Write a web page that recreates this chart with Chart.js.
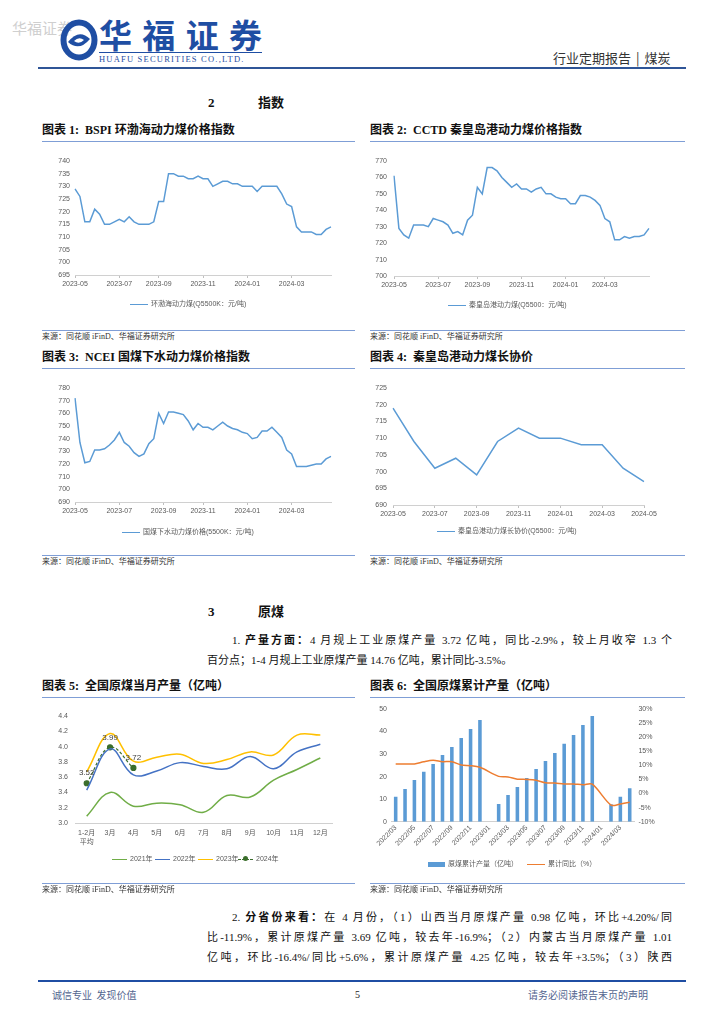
<!DOCTYPE html>
<html>
<head>
<meta charset="utf-8">
<script src="https://cdn.jsdelivr.net/npm/chart.js@4.4.1/dist/chart.umd.min.js"></script>
<style>
body { margin: 0; background: #fff; }
#page { position: relative; width: 724px; height: 1024px; overflow: hidden; font-family: "Liberation Serif", "Noto Sans CJK SC", serif; color: #111; }
.abs { position: absolute; white-space: nowrap; }
.title { font-size: 12px; font-weight: 700; line-height: 14px; }
.rule { position: absolute; height: 0; border-top: 1.5px solid #7f9ed6; }
.src { font-size: 8px; color: #333; line-height: 10px; }
.legend { position: absolute; font-family: "Liberation Sans", "Noto Sans CJK SC", sans-serif; font-size: 7px; color: #595959; white-space: nowrap; line-height: 10px; }
.legend i { display: inline-block; width: 18px; height: 0; border-top: 1.5px solid #5b9bd5; vertical-align: middle; margin-right: 3px; position: relative; }
canvas { position: absolute; }
.para { position: absolute; font-size: 11px; line-height: 14px; white-space: nowrap; }
.just { white-space: normal; text-align: justify; text-align-last: justify; }
.head { position: absolute; font-size: 13px; font-weight: 700; line-height: 16px; }
</style>
</head>
<body>
<div id="page">
  <!-- header -->
  <div class="abs" style="left:12px;top:17px;font-size:15px;color:#cfcfcf;font-family:'Noto Sans CJK SC'">华福证券</div>
  <svg style="position:absolute;left:60px;top:19px" width="38" height="42" viewBox="0 0 38 42">
    <ellipse cx="19" cy="21" rx="15.5" ry="17.5" fill="none" stroke="#1f4ea3" stroke-width="6"/>
    <path d="M8 23 Q19 9 30 20 Q19 33 8 23 Z" fill="#1f4ea3"/>
    <path d="M14 22 Q19 17 24 21 Q19 26 14 22 Z" fill="#fff"/>
  </svg>
  <div class="abs just" style="left:99px;top:15px;width:163px;font-size:33px;font-weight:700;color:#1f4ea3;font-family:'Noto Sans CJK SC';line-height:38px">华福证券</div>
  <div class="abs" style="left:99px;top:52px;width:163px;border-top:1px solid #1f4ea3"></div>
  <div class="abs" style="left:99px;top:54px;font-size:8.5px;letter-spacing:1.2px;color:#1f4ea3;line-height:10px">HUAFU SECURITIES CO.,LTD.</div>
  <div class="abs" style="left:553px;top:50px;font-size:13px;color:#333;font-family:'Noto Sans CJK SC';line-height:16px">行业定期报告<span style="margin:0 5px">|</span>煤炭</div>
  <div class="abs" style="left:38px;top:67px;width:648px;border-top:2px solid #2f5597"></div>

  <!-- section 2 -->
  <div class="head" style="left:208px;top:95px">2</div>
  <div class="head" style="left:258px;top:95px">指数</div>

  <div class="abs title" style="left:42px;top:123px">图表 1:&nbsp; BSPI 环渤海动力煤价格指数</div>
  <div class="abs title" style="left:370px;top:123px">图表 2:&nbsp; CCTD 秦皇岛港动力煤价格指数</div>
  <div class="rule" style="left:42px;top:141px;width:313px"></div>
  <div class="rule" style="left:370px;top:141px;width:315px"></div>

  <canvas id="c1" width="320" height="160" style="left:40px;top:145px"></canvas>
  <canvas id="c2" width="320" height="160" style="left:365px;top:145px"></canvas>
  <div class="legend" style="left:130px;top:299px"><i></i>环渤海动力煤(Q5500K：元/吨)</div>
  <div class="legend" style="left:448px;top:300px"><i></i>秦皇岛港动力煤(Q5500：元/吨)</div>

  <div class="rule" style="left:42px;top:330px;width:313px"></div>
  <div class="rule" style="left:370px;top:330px;width:315px"></div>
  <div class="abs src" style="left:42px;top:332px">来源：同花顺 iFinD、华福证券研究所</div>
  <div class="abs src" style="left:370px;top:332px">来源：同花顺 iFinD、华福证券研究所</div>

  <div class="abs title" style="left:42px;top:350px">图表 3:&nbsp; NCEI 国煤下水动力煤价格指数</div>
  <div class="abs title" style="left:370px;top:350px">图表 4:&nbsp; 秦皇岛港动力煤长协价</div>
  <div class="rule" style="left:42px;top:368px;width:313px"></div>
  <div class="rule" style="left:370px;top:368px;width:315px"></div>

  <canvas id="c3" width="320" height="160" style="left:40px;top:370px"></canvas>
  <canvas id="c4" width="320" height="160" style="left:365px;top:370px"></canvas>
  <div class="legend" style="left:122px;top:527px"><i></i>国煤下水动力煤价格(5500K：元/吨)</div>
  <div class="legend" style="left:437px;top:526px"><i></i>秦皇岛港动力煤长协价(Q5500：元/吨)</div>

  <div class="rule" style="left:42px;top:555px;width:313px"></div>
  <div class="rule" style="left:370px;top:555px;width:315px"></div>
  <div class="abs src" style="left:42px;top:557px">来源：同花顺 iFinD、华福证券研究所</div>
  <div class="abs src" style="left:370px;top:557px">来源：同花顺 iFinD、华福证券研究所</div>

  <!-- section 3 -->
  <div class="head" style="left:208px;top:604px">3</div>
  <div class="head" style="left:258px;top:604px">原煤</div>
  <div class="para just" style="left:232px;top:633px;width:440px">1. <b>产量方面：</b>4 月规上工业原煤产量 3.72 亿吨，同比-2.9%，较上月收窄 1.3 个</div>
  <div class="para" style="left:207px;top:653px">百分点；1-4 月规上工业原煤产量 14.76 亿吨，累计同比-3.5%。</div>

  <div class="abs title" style="left:42px;top:679px">图表 5:&nbsp; 全国原煤当月产量（亿吨）</div>
  <div class="abs title" style="left:370px;top:679px">图表 6:&nbsp; 全国原煤累计产量（亿吨）</div>
  <div class="rule" style="left:42px;top:697px;width:313px"></div>
  <div class="rule" style="left:370px;top:697px;width:315px"></div>

  <canvas id="c5" width="300" height="160" style="left:40px;top:695px"></canvas>
  <canvas id="c6" width="320" height="165" style="left:365px;top:695px"></canvas>
  <div class="legend" style="left:112px;top:854px"><i style="border-color:#70ad47;width:15px"></i>2021年</div>
  <div class="legend" style="left:155px;top:854px"><i style="border-color:#4472c4;width:15px"></i>2022年</div>
  <div class="legend" style="left:198px;top:854px"><i style="border-color:#ffc000;width:15px"></i>2023年</div>
  <div class="legend" style="left:238px;top:854px"><i style="border-top:1.5px dashed #3b6e2c;width:15px"><b style="position:absolute;left:5px;top:-3.5px;width:5px;height:5px;border-radius:50%;background:#3b6e2c"></b></i>2024年</div>
  <div class="legend" style="left:428px;top:859px"><i style="border:none;height:5px;background:#5b9bd5;width:17px"></i>原煤累计产量（亿吨）</div>
  <div class="legend" style="left:527px;top:859px"><i style="border-color:#ed7d31"></i>累计同比（%）</div>

  <div class="rule" style="left:42px;top:883px;width:313px"></div>
  <div class="rule" style="left:370px;top:883px;width:315px"></div>
  <div class="abs src" style="left:42px;top:885px">来源：同花顺 iFinD、华福证券研究所</div>
  <div class="abs src" style="left:370px;top:885px">来源：同花顺 iFinD、华福证券研究所</div>

  <div class="para just" style="left:232px;top:910px;width:440px">2. <b>分省份来看：</b>在 4 月份，（1）山西当月原煤产量 0.98 亿吨，环比+4.20%/同</div>
  <div class="para just" style="left:207px;top:930px;width:465px">比-11.9%，累计原煤产量 3.69 亿吨，较去年-16.9%；（2）内蒙古当月原煤产量 1.01</div>
  <div class="para just" style="left:207px;top:950px;width:465px">亿吨，环比-16.4%/同比+5.6%，累计原煤产量 4.25 亿吨，较去年+3.5%；（3）陕西</div>

  <!-- footer -->
  <div class="abs" style="left:38px;top:980px;width:648px;border-top:2px solid #1f4ea3"></div>
  <div class="abs" style="left:52px;top:988px;font-size:10px;color:#53658f;font-family:'Noto Sans CJK SC';line-height:14px">诚信专业&nbsp;&nbsp;发现价值</div>
  <div class="abs" style="left:355px;top:988px;font-size:10px;color:#222;line-height:14px">5</div>
  <div class="abs" style="left:528px;top:988px;font-size:10px;color:#53658f;font-family:'Noto Sans CJK SC';line-height:14px">请务必阅读报告末页的声明</div>
</div>

<script>
// ---- data ----
// weekly price indices (2023-05 .. 2024-05)
const bspiValues = [729, 726, 716, 716, 721, 719, 715, 715, 716, 717, 716, 718, 716, 715, 715, 715, 716, 724, 724, 735,
    735, 734, 734, 733, 733, 734, 733, 733, 730, 731, 732, 732, 731, 731, 730, 730, 730, 728, 730, 730,
    730, 730, 727, 723, 722, 714, 712, 712, 712, 711, 711, 713, 714];
const bspiTickIdx = [0, 9, 17, 26, 35, 44];

const cctdValues = [761, 729, 725, 723, 731, 731, 731, 730, 735, 734, 733, 731, 726, 727, 725, 734, 737, 754, 750, 766,
    766, 764, 760, 757, 754, 756, 753, 753, 751, 753, 754, 750, 750, 748, 747, 747, 744, 744, 749, 749,
    748, 746, 743, 735, 733, 722, 722, 724, 723, 724, 724, 725, 729];
const cctdTickIdx = [0, 9, 17, 26, 35, 43];

const nceiValues = [772, 737, 721, 722, 731, 731, 732, 735, 739, 745, 737, 734, 729, 726, 728, 736, 740, 760, 752, 761,
    761, 760, 759, 754, 747, 752, 749, 749, 747, 750, 753, 750, 748, 747, 745, 744, 740, 741, 746, 746,
    749, 745, 741, 731, 728, 718, 718, 718, 719, 720, 720, 724, 726];
const nceiTickIdx = [0, 9, 18, 26, 35, 44];

const weeklyTickText = ['2023-05', '2023-07', '2023-09', '2023-11', '2024-01', '2024-03'];

// monthly long-term contract price
const contractMonths = ['2023-05', '2023-06', '2023-07', '2023-08', '2023-09', '2023-10', '2023-11',
    '2023-12', '2024-01', '2024-02', '2024-03', '2024-04', '2024-05'];
const contractValues = [719, 709, 701, 704, 699, 709, 713, 710, 710, 708, 708, 701, 697];

// monthly raw coal output (亿吨)
const outputMonths = [['1-2月', '平均'], '3月', '4月', '5月', '6月', '7月', '8月', '9月', '10月', '11月', '12月'];
const output2021 = [3.09, 3.40, 3.22, 3.26, 3.24, 3.14, 3.36, 3.34, 3.56, 3.70, 3.85];
const output2022 = [3.43, 3.97, 3.63, 3.68, 3.79, 3.74, 3.71, 3.87, 3.71, 3.93, 4.03];
const output2023 = [3.67, 4.17, 3.81, 3.86, 3.90, 3.78, 3.83, 3.93, 3.89, 4.15, 4.15];
const output2024 = [3.52, 3.99, 3.72];

// cumulative output and yoy
const cumMonths = ['2022/03', '2022/04', '2022/05', '2022/06', '2022/07', '2022/08', '2022/09', '2022/10', '2022/11', '2022/12',
    '2023/01', '2023/02', '2023/03', '2023/04', '2023/05', '2023/06', '2023/07', '2023/08', '2023/09', '2023/10',
    '2023/11', '2023/12', '2024/01', '2024/02', '2024/03', '2024/04'];
const cumOutput = [11.1, 14.5, 18.5, 22.2, 25.6, 29.6, 33.1, 37.1, 41.1, 45.1, null, 7.8, 11.8, 15.4, 19.4, 23.4,
    26.9, 30.5, 34.6, 38.5, 42.9, 46.9, null, 7.7, 11.1, 14.8];
const cumYoy = [10.5, 10.5, 10.5, 11.3, 11.8, 11.3, 11.3, 10.1, 9.9, 9.3, null, 6.1, 5.9, 5.1, 5.0, 4.7,
    3.8, 3.7, 3.4, 3.4, 3.1, 3.3, null, -4.1, -3.7, -3.1];

// ---- defaults ----
Chart.defaults.font.family = '"Liberation Sans", "Noto Sans CJK SC", sans-serif';
Chart.defaults.font.size = 7;
Chart.defaults.color = '#595959';
Chart.defaults.animation = false;

const AXIS_COLOR = '#d0d0d0';

function buildLabels(n, idx, text) {
    const labels = new Array(n).fill('');
    idx.forEach(function(k, i) { labels[k] = text[i]; });
    return labels;
}

function priceChart(id, labels, values, cfg) {
    const ctx = document.getElementById(id).getContext('2d');
    return new Chart(ctx, {
        type: 'line',
        data: {
            labels: labels,
            datasets: [{
                data: values,
                borderColor: '#5b9bd5',
                borderWidth: 1.5,
                pointRadius: 0,
                tension: 0
            }]
        },
        options: {
            responsive: false,
            layout: { padding: cfg.padding },
            plugins: { legend: { display: false }, tooltip: { enabled: false } },
            scales: {
                x: {
                    afterFit: function(scale) { scale.height = cfg.xHeight; },
                    grid: {
                        drawOnChartArea: false,
                        tickLength: 3,
                        tickColor: function(c) { return c.tick && c.tick.label ? '#bfbfbf' : 'rgba(0,0,0,0)'; }
                    },
                    border: { color: AXIS_COLOR },
                    ticks: {
                        autoSkip: false,
                        maxRotation: 0,
                        padding: 2,
                        callback: cfg.tickCb || function(v) { return this.getLabelForValue(v); }
                    }
                },
                y: {
                    min: cfg.min,
                    max: cfg.max,
                    afterFit: function(scale) { scale.width = cfg.yWidth; },
                    grid: { display: false, drawTicks: false },
                    border: { display: false },
                    ticks: { stepSize: cfg.step, padding: cfg.yPad }
                }
            }
        }
    });
}

priceChart('c1', buildLabels(bspiValues.length, bspiTickIdx, weeklyTickText), bspiValues,
    { min: 695, max: 740, step: 5, yWidth: 35, yPad: 5, xHeight: 30, padding: { top: 16, right: 29, left: 0, bottom: 0 } });

priceChart('c2', buildLabels(cctdValues.length, cctdTickIdx, weeklyTickText), cctdValues,
    { min: 700, max: 770, step: 10, yWidth: 29, yPad: 7, xHeight: 29, padding: { top: 16, right: 36, left: 0, bottom: 0 } });

priceChart('c3', buildLabels(nceiValues.length, nceiTickIdx, weeklyTickText), nceiValues,
    { min: 690, max: 780, step: 10, yWidth: 35, yPad: 5, xHeight: 28, padding: { top: 18, right: 29, left: 0, bottom: 0 } });

priceChart('c4', contractMonths, contractValues,
    { min: 690, max: 725, step: 5, yWidth: 28, yPad: 6, xHeight: 25, padding: { top: 18, right: 41, left: 0, bottom: 0 },
      tickCb: function(v, i) { return i % 2 === 0 ? this.getLabelForValue(v) : ''; } });

// data labels for the 2024 series
const pointLabels = {
    id: 'pointLabels',
    afterDatasetsDraw: function(chart) {
        const ctx = chart.ctx;
        const meta = chart.getDatasetMeta(3);
        ctx.save();
        ctx.font = '8px "Liberation Sans", sans-serif';
        ctx.fillStyle = '#404040';
        ctx.textAlign = 'center';
        ctx.textBaseline = 'middle';
        meta.data.forEach(function(pt, i) {
            ctx.fillText(output2024[i].toFixed(2), pt.x, pt.y - 10);
        });
        ctx.restore();
    }
};

new Chart(document.getElementById('c5').getContext('2d'), {
    type: 'line',
    data: {
        labels: outputMonths,
        datasets: [
            { label: '2021年', data: output2021, borderColor: '#70ad47', borderWidth: 1.5, pointRadius: 0, tension: 0.4 },
            { label: '2022年', data: output2022, borderColor: '#4472c4', borderWidth: 1.5, pointRadius: 0, tension: 0.4 },
            { label: '2023年', data: output2023, borderColor: '#ffc000', borderWidth: 1.5, pointRadius: 0, tension: 0.4 },
            { label: '2024年', data: output2024, borderColor: '#3b6e2c', backgroundColor: '#3b6e2c', borderWidth: 1.2,
              borderDash: [3, 2], pointRadius: 2.5, pointBackgroundColor: '#3b6e2c', tension: 0.4 }
        ]
    },
    options: {
        responsive: false,
        layout: { padding: { top: 21, right: 8, left: 0, bottom: 0 } },
        plugins: { legend: { display: false }, tooltip: { enabled: false } },
        scales: {
            x: {
                offset: true,
                afterFit: function(scale) { scale.height = 32; },
                grid: { display: false, drawTicks: false },
                border: { color: AXIS_COLOR },
                ticks: { maxRotation: 0, autoSkip: false, padding: 6 }
            },
            y: {
                min: 3.0,
                max: 4.4,
                afterFit: function(scale) { scale.width = 35; },
                grid: { display: false, drawTicks: false },
                border: { display: false },
                ticks: { stepSize: 0.2, padding: 7, callback: function(v) { return v.toFixed(1); } }
            }
        }
    },
    plugins: [pointLabels]
});

new Chart(document.getElementById('c6').getContext('2d'), {
    data: {
        labels: cumMonths,
        datasets: [
            { type: 'line', label: '累计同比（%）', data: cumYoy, yAxisID: 'y1', borderColor: '#ed7d31', borderWidth: 1.5,
              pointRadius: 0, tension: 0.3, spanGaps: true },
            { type: 'bar', label: '原煤累计产量（亿吨）', data: cumOutput, yAxisID: 'y', backgroundColor: '#5b9bd5',
              barPercentage: 0.38, categoryPercentage: 1 }
        ]
    },
    options: {
        responsive: false,
        layout: { padding: { top: 14, right: 20.6, left: 0, bottom: 0 } },
        plugins: { legend: { display: false }, tooltip: { enabled: false } },
        scales: {
            x: {
                afterFit: function(scale) { scale.height = 38.3; },
                grid: { display: false, drawTicks: false },
                border: { color: AXIS_COLOR },
                ticks: {
                    autoSkip: false, minRotation: 45, maxRotation: 45, padding: 2,
                    callback: function(v, i) { return i % 2 === 0 ? this.getLabelForValue(v) : ''; }
                }
            },
            y: {
                position: 'left',
                min: 0,
                max: 50,
                afterFit: function(scale) { scale.width = 26; },
                grid: { display: false, drawTicks: false },
                border: { display: false },
                ticks: { stepSize: 5, padding: 4 }
            },
            y1: {
                position: 'right',
                min: -10,
                max: 30,
                afterFit: function(scale) { scale.width = 30; },
                grid: { display: false, drawTicks: false },
                border: { display: false },
                ticks: { stepSize: 5, padding: 4, callback: function(v) { return v + '%'; } }
            }
        }
    }
});
</script>
</body>
</html>
